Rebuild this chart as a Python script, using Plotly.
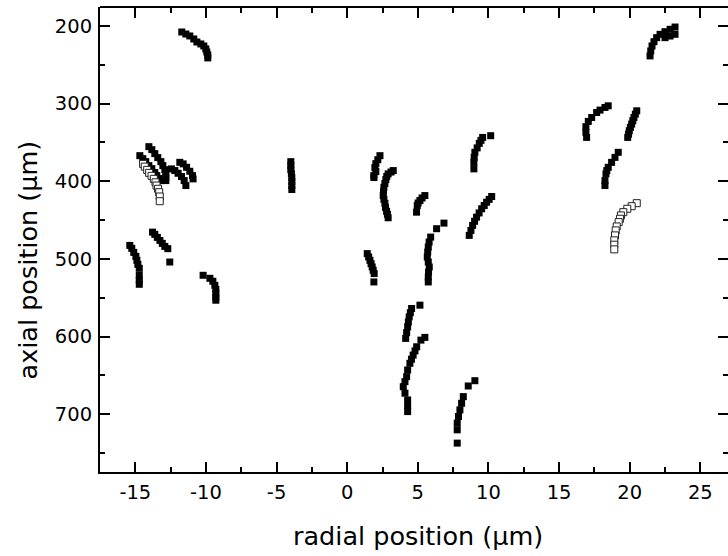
import plotly.graph_objects as go

# ---- data: filled-square tracks (radial x in µm, axial y in µm) ----
track_a_x = [-11.71, -11.42, -11.14, -10.86, -10.64, -10.36, -10.15, -10.01, -9.94, -9.87, -9.87]
track_a_y = [207.7, 210.3, 212.8, 216.7, 220.6, 223.1, 225.7, 229.5, 233.4, 237.2, 241.1]

track_b1_x = [-14.04, -13.83, -13.62, -13.41, -13.19, -13.05, -12.91, -12.84, -12.84, -12.84]
track_b1_y = [355.4, 359.3, 364.4, 369.5, 374.7, 379.8, 385.0, 390.1, 395.2, 399.1]

track_b2_x = [-14.68, -14.47, -14.26, -14.04, -13.83, -13.62, -13.48, -13.34, -13.20]
track_b2_y = [367.0, 370.8, 374.7, 379.8, 383.7, 388.8, 392.7, 396.5, 399.1]

track_c1_x = [-12.44, -12.20, -11.97, -11.73, -11.54, -11.42]
track_c1_y = [384.1, 386.2, 389.7, 393.9, 399.1, 405.5]

track_c2_x = [-11.85, -11.61, -11.37, -11.14, -10.95, -10.91]
track_c2_y = [375.6, 377.6, 382.0, 387.1, 392.7, 396.9]

track_d1_x = [-15.39, -15.25, -15.11, -14.96, -14.89, -14.82, -14.72, -14.72, -14.72, -14.72]
track_d1_y = [482.6, 486.4, 491.6, 496.7, 501.8, 507.0, 512.1, 521.1, 527.5, 532.7]

track_d2_x = [-13.78, -13.62, -13.44, -13.26, -13.09, -12.91, -12.70, -12.56]
track_d2_y = [465.5, 468.4, 472.3, 476.2, 480.0, 483.9, 486.8, 504.0]

track_e_x = [-10.20, -9.72, -9.51, -9.37, -9.30, -9.30, -9.30, -9.30]
track_e_y = [521.1, 525.0, 528.8, 534.0, 539.1, 544.2, 549.4, 553.2]

track_f_x = [-3.99, -3.99, -3.99, -3.95, -3.92, -3.92, -3.92, -3.92]
track_f_y = [374.7, 379.8, 385.0, 390.1, 395.2, 400.4, 405.5, 410.6]

track_g1_x = [2.32, 2.17, 2.03, 1.96, 2.03, 1.89, 1.89]
track_g1_y = [367.0, 372.2, 377.3, 382.4, 387.5, 392.7, 395.2]

track_g2_x = [3.26, 3.10, 2.90, 2.80, 2.74, 2.67, 2.60, 2.57, 2.55, 2.60, 2.67, 2.71, 2.79, 2.85, 2.90]
track_g2_y = [386.2, 388.1, 390.5, 393.8, 397.7, 402.8, 407.7, 412.9, 418.4, 423.2, 428.4, 433.6, 438.7, 442.6, 447.0]

track_g3_x = [5.50, 5.30, 5.15, 5.02, 4.96, 4.91]
track_g3_y = [418.4, 421.5, 424.8, 428.0, 431.2, 439.8]

track_g4_x = [1.42, 1.52, 1.61, 1.69, 1.77, 1.84, 1.91, 1.89]
track_g4_y = [493.2, 497.5, 501.8, 506.1, 510.4, 514.6, 518.9, 529.7]

track_g5_x = [6.85, 6.33, 5.91, 5.80, 5.74, 5.70, 5.67, 5.74, 5.81, 5.76, 5.74, 5.74]
track_g5_y = [453.9, 461.1, 471.9, 478.3, 484.7, 491.2, 497.6, 504.0, 510.4, 516.9, 523.3, 529.7]

track_h1_x = [10.16, 9.59, 9.47, 9.35, 9.20, 9.04, 8.99, 8.97, 8.97]
track_h1_y = [341.3, 343.5, 347.3, 351.2, 357.0, 362.7, 369.2, 375.6, 384.0]

track_h2_x = [10.23, 10.05, 9.87, 9.70, 9.52, 9.34, 9.16, 9.02, 8.88, 8.76, 8.64]
track_h2_y = [419.6, 423.3, 427.0, 431.2, 435.4, 440.8, 446.2, 451.5, 456.9, 463.3, 469.7]

track_i1_x = [5.15, 4.56, 4.47, 4.39, 4.33, 4.28, 4.21, 4.14]
track_i1_y = [559.6, 563.9, 569.3, 574.7, 581.1, 587.5, 595.0, 602.4]

track_i2_x = [5.50, 5.22, 4.92, 4.80, 4.67, 4.55, 4.44, 4.28, 4.21, 4.09, 3.97, 4.09, 4.28, 4.28, 4.28]
track_i2_y = [601.1, 604.6, 613.2, 618.5, 623.9, 629.2, 634.5, 643.1, 651.7, 658.1, 664.6, 673.0, 681.7, 689.2, 696.7]

track_j_x = [9.04, 8.57, 8.22, 8.10, 7.98, 7.88, 7.79, 7.79, 7.79]
track_j_y = [656.9, 663.7, 677.4, 686.0, 694.5, 703.0, 711.6, 720.2, 737.3]

track_k1_x = [23.21, 22.86, 22.50, 22.15, 21.91, 21.72, 21.58, 21.49, 21.44]
track_k1_y = [201.3, 204.2, 207.3, 210.7, 215.0, 220.2, 225.7, 232.1, 238.5]

track_k2_x = [23.21, 22.86, 22.50]
track_k2_y = [210.7, 212.9, 215.0]

track_l1_x = [18.48, 18.25, 17.90, 17.66, 17.31, 17.07, 16.90, 16.90, 16.95]
track_l1_y = [302.8, 304.9, 308.3, 311.4, 317.8, 322.9, 329.7, 337.0, 343.5]

track_l2_x = [20.50, 20.40, 20.30, 20.22, 20.14, 20.05, 19.97, 19.92, 19.86]
track_l2_y = [309.2, 313.5, 317.8, 322.0, 326.3, 330.6, 334.9, 339.2, 343.5]

track_l3_x = [19.19, 18.96, 18.72, 18.48, 18.38, 18.32, 18.25, 18.25]
track_l3_y = [362.7, 369.2, 375.6, 382.0, 386.2, 390.5, 399.1, 405.5]

# ---- data: open-square tracks ----
open_1_x = [-14.45, -14.33, -14.16, -14.02, -13.85, -13.69, -13.57, -13.50, -13.39, -13.31, -13.27, -13.27]
open_1_y = [377.6, 381.1, 385.3, 389.2, 393.0, 396.9, 401.3, 405.5, 409.7, 414.1, 419.6, 425.7]

open_2_x = [20.50, 20.14, 19.83, 19.55, 19.38, 19.31, 19.22, 19.08, 19.01, 18.96, 18.91, 18.91, 18.91]
open_2_y = [428.2, 432.1, 435.4, 439.8, 444.0, 448.3, 452.6, 458.2, 463.3, 469.7, 476.1, 481.7, 487.7]

# ---- axes ----
x_ticks = [-15, -10, -5, 0, 5, 10, 15, 20, 25]
x_tick_labels = ["-15", "-10", "-5", "0", "5", "10", "15", "20", "25"]
y_ticks = [200, 300, 400, 500, 600, 700]
y_tick_labels = ["200", "300", "400", "500", "600", "700"]
x_range = [-17.5, 26.96]
y_range = [774.5, 175.5]

filled_tracks = [
    (track_a_x, track_a_y), (track_b1_x, track_b1_y), (track_b2_x, track_b2_y),
    (track_c1_x, track_c1_y), (track_c2_x, track_c2_y), (track_d1_x, track_d1_y),
    (track_d2_x, track_d2_y), (track_e_x, track_e_y), (track_f_x, track_f_y),
    (track_g1_x, track_g1_y), (track_g2_x, track_g2_y), (track_g3_x, track_g3_y),
    (track_g4_x, track_g4_y), (track_g5_x, track_g5_y), (track_h1_x, track_h1_y),
    (track_h2_x, track_h2_y), (track_i1_x, track_i1_y), (track_i2_x, track_i2_y),
    (track_j_x, track_j_y), (track_k1_x, track_k1_y), (track_k2_x, track_k2_y),
    (track_l1_x, track_l1_y), (track_l2_x, track_l2_y), (track_l3_x, track_l3_y),
]
open_tracks = [(open_1_x, open_1_y), (open_2_x, open_2_y)]

FONT = "DejaVu Sans"

fig = go.Figure()
for tx, ty in filled_tracks:
    fig.add_trace(go.Scatter(
        x=tx, y=ty, mode="markers", showlegend=False, hoverinfo="skip",
        marker=dict(symbol="square", size=7, color="black", line=dict(width=0)),
    ))
# open tracks live on the twin (top/right) axes, which share the same ranges
for tx, ty in open_tracks:
    fig.add_trace(go.Scatter(
        x=tx, y=ty, xaxis="x2", yaxis="y2", mode="markers", showlegend=False,
        hoverinfo="skip",
        marker=dict(symbol="square", size=7, color="white", line=dict(width=1, color="#222222")),
    ))

tick_style = dict(
    showgrid=False, zeroline=False, ticks="inside", ticklen=10, tickwidth=2,
    tickcolor="black", tickfont=dict(family=FONT, size=19.5, color="black"),
)
line_style = dict(linecolor="black", linewidth=2)
x_minor = dict(dtick=2.5, ticks="inside", ticklen=5, tickwidth=2, tickcolor="black")
y_minor = dict(dtick=50, tick0=150, ticks="inside", ticklen=5, tickwidth=2, tickcolor="black")

fig.update_layout(
    width=728, height=556,
    margin=dict(l=100, r=0, t=7, b=84),
    paper_bgcolor="white", plot_bgcolor="white",
    xaxis=dict(
        range=x_range, tickmode="array", tickvals=x_ticks, ticktext=x_tick_labels,
        showline=True, mirror=False, minor=x_minor, ticklabelstandoff=2,
        **tick_style, **line_style,
    ),
    xaxis2=dict(
        range=x_range, overlaying="x", side="top", anchor="free", position=1,
        tickmode="array", tickvals=x_ticks, showticklabels=False,
        showline=True, minor=x_minor, **tick_style, **line_style,
    ),
    yaxis=dict(
        range=y_range, tickmode="array", tickvals=y_ticks, ticktext=y_tick_labels,
        showline=True, mirror=False, minor=y_minor, ticklabelstandoff=2,
        **tick_style, **line_style,
    ),
    yaxis2=dict(
        range=y_range, overlaying="y", side="right", anchor="x",
        tickmode="array", tickvals=y_ticks, showticklabels=False, showline=False,
        minor=y_minor, **tick_style,
    ),
    shapes=[
        dict(type="line", xref="paper", yref="paper", x0=0, x1=1, y0=1, y1=1,
             line=dict(color="black", width=2), layer="above"),
    ],
    annotations=[
        dict(text="radial position (µm)", xref="paper", yref="paper",
             x=0.506, y=-0.137, xanchor="center", yanchor="middle", showarrow=False,
             font=dict(family=FONT, size=25.5, color="black")),
        dict(text="axial position (µm)", xref="paper", yref="paper",
             x=-0.1146, y=0.455, xanchor="center", yanchor="middle", showarrow=False,
             textangle=-90, font=dict(family=FONT, size=25.5, color="black")),
    ],
)

fig.write_html(
    "out.html",
    config={"displayModeBar": False},
    post_script="document.body.style.margin='0';document.body.style.overflow='hidden';",
)
